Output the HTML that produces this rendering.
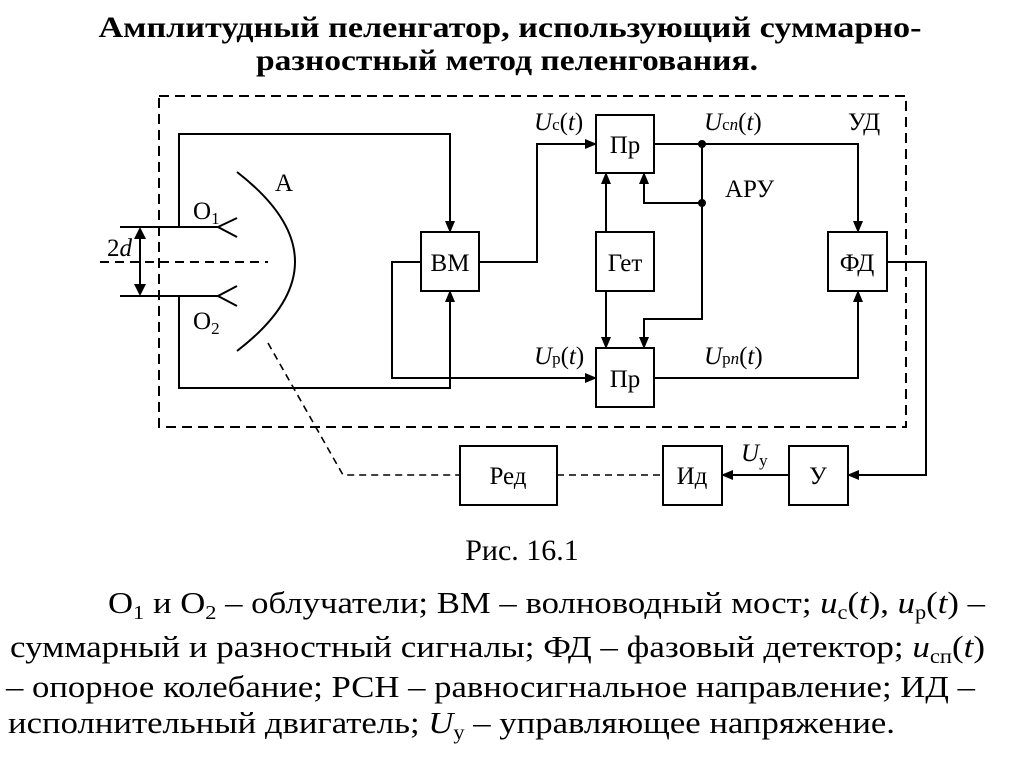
<!DOCTYPE html>
<html><head><meta charset="utf-8"><style>
html,body{margin:0;padding:0;background:#fff;}
svg{display:block;font-family:"Liberation Serif","Times New Roman",serif;}
text{font-family:"Liberation Serif","Times New Roman",serif;fill:#000;}
</style></head><body>
<svg width="1024" height="767" viewBox="0 0 1024 767" xmlns="http://www.w3.org/2000/svg" font-family="Liberation Serif, serif">
<defs>
<marker id="ar" markerWidth="12" markerHeight="12" refX="11" refY="6" orient="auto" markerUnits="userSpaceOnUse">
<path d="M0,1 L12,6 L0,11 Z" fill="#000"/>
</marker>
</defs>
<text x="510" y="37" font-size="30" font-weight="bold" text-anchor="middle" textLength="823" lengthAdjust="spacingAndGlyphs" font-family="Liberation Serif, serif">Амплитудный пеленгатор, использующий суммарно-</text>
<text x="507" y="70" font-size="30" font-weight="bold" text-anchor="middle" textLength="502" lengthAdjust="spacingAndGlyphs" font-family="Liberation Serif, serif">разностный метод пеленгования.</text>

<g stroke="#000" stroke-width="2" fill="none">
<rect x="159" y="96" width="747" height="331" stroke-dasharray="10,6"/>
<rect x="421" y="232" width="58" height="59"/>
<rect x="596" y="115" width="58" height="58"/>
<rect x="596" y="232" width="58" height="59"/>
<rect x="596" y="348" width="58" height="59"/>
<rect x="828" y="232" width="59" height="59"/>
<rect x="460" y="446" width="97" height="59"/>
<rect x="663" y="446" width="59" height="59"/>
<rect x="789" y="446" width="59" height="59"/>
<path d="M237,172 Q353,262 237,351"/>
<path d="M120,227 H218 M237,218 L218,227 L237,237"/>
<path d="M120,296 H218 M237,286 L218,296 L237,306"/>
<path d="M100,262 H268" stroke-dasharray="9,6"/>
<path d="M140,229 V294"/>
<path d="M268,343 L343,475 H460" stroke-dasharray="7,5" stroke-width="1.6"/>
<path d="M557,475 H663" stroke-dasharray="7,5" stroke-width="1.6"/>
<path d="M179,227 V134 H450 V232" marker-end="url(#ar)"/>
<path d="M179,296 V388 H450 V291" marker-end="url(#ar)"/>
<path d="M421,262 H392 V378 H596" marker-end="url(#ar)"/>
<path d="M479,262 H537 V144 H596" marker-end="url(#ar)"/>
<path d="M654,144 H858 V232" marker-end="url(#ar)"/>
<path d="M702,144 V319 H644 V348" marker-end="url(#ar)"/>
<path d="M702,203 H644 V173" marker-end="url(#ar)"/>
<path d="M606,232 V173" marker-end="url(#ar)"/>
<path d="M606,291 V348" marker-end="url(#ar)"/>
<path d="M654,378 H858 V291" marker-end="url(#ar)"/>
<path d="M887,262 H926 V475 H848" marker-end="url(#ar)"/>
<path d="M789,475 H722" marker-end="url(#ar)"/>
</g>
<path d="M134,239 L140,227 L146,239 Z M134,284 L140,296 L146,284 Z" fill="#000"/>
<circle cx="702" cy="144" r="4" fill="#000"/>
<circle cx="702" cy="203" r="4" fill="#000"/>

<g font-size="25" font-family="Liberation Serif, serif">
<text x="450" y="271" text-anchor="middle">ВМ</text>
<text x="625" y="153" text-anchor="middle">Пр</text>
<text x="625" y="271" text-anchor="middle">Гет</text>
<text x="625" y="387" text-anchor="middle">Пр</text>
<text x="857" y="271" text-anchor="middle">ФД</text>
<text x="508" y="484" text-anchor="middle">Ред</text>
<text x="692" y="484" text-anchor="middle">Ид</text>
<text x="818" y="484" text-anchor="middle">У</text>
<text x="275" y="191">А</text>
<text x="193" y="219">O<tspan font-size="17" dy="5">1</tspan></text>
<text x="193" y="329">O<tspan font-size="17" dy="5">2</tspan></text>
<text x="107" y="256">2<tspan font-style="italic">d</tspan></text>
<text x="534" y="130"><tspan font-style="italic">U</tspan><tspan font-size="17">с</tspan>(<tspan font-style="italic">t</tspan>)</text>
<text x="704" y="130"><tspan font-style="italic">U</tspan><tspan font-size="17">с<tspan font-style="italic">n</tspan></tspan>(<tspan font-style="italic">t</tspan>)</text>
<text x="848" y="130">УД</text>
<text x="725" y="197">АРУ</text>
<text x="534" y="364"><tspan font-style="italic">U</tspan><tspan font-size="17">р</tspan>(<tspan font-style="italic">t</tspan>)</text>
<text x="704" y="364"><tspan font-style="italic">U</tspan><tspan font-size="17">р<tspan font-style="italic">n</tspan></tspan>(<tspan font-style="italic">t</tspan>)</text>
<text x="741" y="461"><tspan font-style="italic">U</tspan><tspan font-size="17" dy="5">у</tspan></text>
</g>

<text x="522" y="560" font-size="30" text-anchor="middle" font-family="Liberation Serif, serif">Рис. 16.1</text>
<g font-size="31" font-family="Liberation Serif, serif">
<text x="108" y="613" textLength="877" lengthAdjust="spacingAndGlyphs">O<tspan font-size="20" dy="6">1</tspan><tspan dy="-6"> и O</tspan><tspan font-size="20" dy="6">2</tspan><tspan dy="-6"> – облучатели; ВМ – волноводный мост; </tspan><tspan font-style="italic">u</tspan><tspan font-size="20" dy="6">с</tspan><tspan dy="-6">(</tspan><tspan font-style="italic">t</tspan>), <tspan font-style="italic">u</tspan><tspan font-size="20" dy="6">р</tspan><tspan dy="-6">(</tspan><tspan font-style="italic">t</tspan>) –</text>
<text x="10" y="657" textLength="975" lengthAdjust="spacingAndGlyphs">суммарный  и разностный сигналы; ФД – фазовый детектор; <tspan font-style="italic">u</tspan><tspan font-size="20" dy="6">сп</tspan><tspan dy="-6">(</tspan><tspan font-style="italic">t</tspan>)</text>
<text x="6" y="697" textLength="969" lengthAdjust="spacingAndGlyphs">– опорное колебание; РСН – равносигнальное направление; ИД –</text>
<text x="8" y="733" textLength="887" lengthAdjust="spacingAndGlyphs">исполнительный двигатель; <tspan font-style="italic">U</tspan><tspan font-size="20" dy="6">у</tspan><tspan dy="-6">  – управляющее напряжение.</tspan></text>
</g>
</svg>
</body></html>
